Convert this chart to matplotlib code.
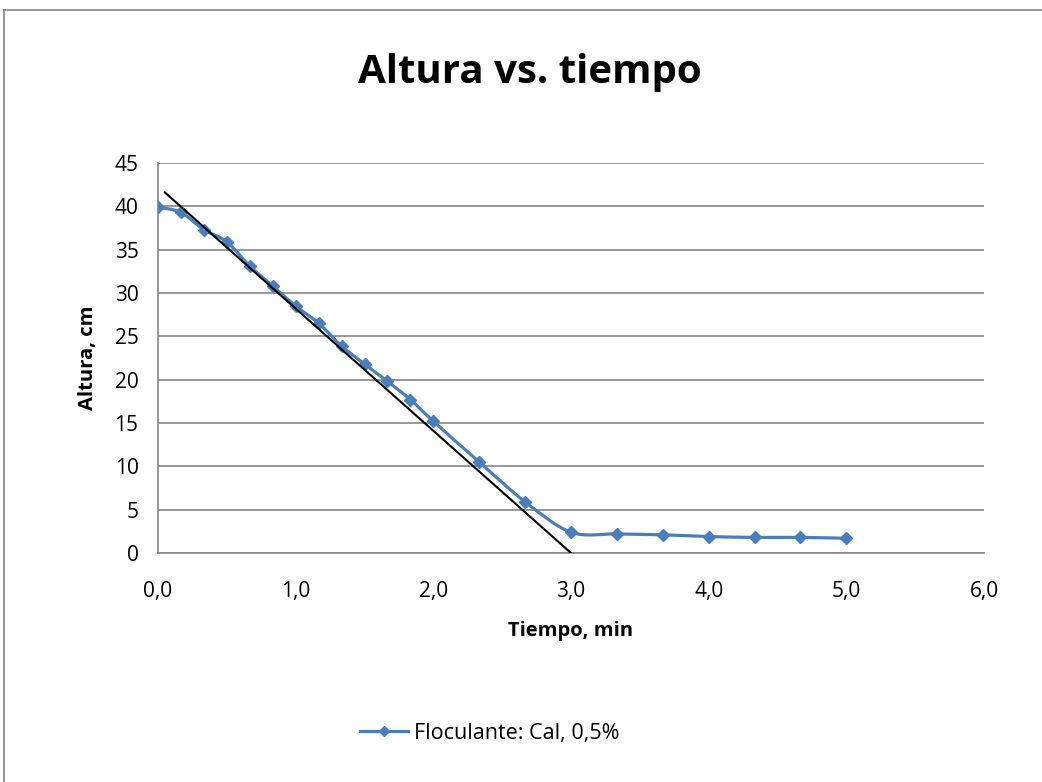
import matplotlib
matplotlib.use("Agg")
import matplotlib.pyplot as plt
from matplotlib.path import Path
from matplotlib.patches import PathPatch
from matplotlib.lines import Line2D
import numpy as np

plt.rcParams['font.family'] = ['Open Sans', 'DejaVu Sans']

# Settling test: interface height vs time
tiempo_min = [0.0, 0.167, 0.333, 0.5, 0.667, 0.833, 1.0, 1.167, 1.333, 1.5, 1.667,
              1.833, 2.0, 2.333, 2.667, 3.0, 3.333, 3.667, 4.0, 4.333, 4.667, 5.0]
altura_cm = [39.9, 39.3, 37.3, 35.9, 33.1, 30.8, 28.5, 26.5, 23.9, 21.8, 19.8,
             17.7, 15.2, 10.5, 5.9, 2.4, 2.2, 2.1, 1.9, 1.8, 1.8, 1.7]

# Tangent line drawn over the constant-rate zone
tangente_x = [0.05, 3.0]
tangente_y = [41.6, 0.0]

serie_label = "Floculante: Cal, 0,5%"
x_ticks = [0, 1, 2, 3, 4, 5, 6]
y_ticks = [0, 5, 10, 15, 20, 25, 30, 35, 40, 45]

azul = "#4A7EBB"
gris = "#868686"

fig = plt.figure(figsize=(10.42, 7.82), dpi=100)
ax = fig.add_axes([158/1042, 1-553/782, (984-158)/1042, (553-163)/782])

# smoothed curve through the points (cardinal spline as cubic Bezier segments)
pts = np.column_stack([tiempo_min, altura_cm])
verts = [tuple(pts[0])]
codes = [Path.MOVETO]
n = len(pts)
for i in range(n - 1):
    p0 = pts[i - 1] if i > 0 else pts[i]
    p1 = pts[i]
    p2 = pts[i + 1]
    p3 = pts[i + 2] if i + 2 < n else pts[i + 1]
    c1 = p1 + (p2 - p0) / 6.0
    c2 = p2 - (p3 - p1) / 6.0
    verts += [tuple(c1), tuple(c2), tuple(p2)]
    codes += [Path.CURVE4] * 3
curva = PathPatch(Path(verts, codes), facecolor='none', edgecolor=azul, lw=2.3,
                  zorder=3, capstyle='round', joinstyle='round')
ax.add_patch(curva)
ax.plot(tiempo_min, altura_cm, linestyle='none', marker='D', markersize=6,
        color=azul, zorder=4)

ax.plot(tangente_x, tangente_y, color='black', lw=1.5, zorder=5)

ax.set_xlim(0, 6)
ax.set_ylim(0, 45)
ax.set_xticks(x_ticks)
ax.set_xticklabels([f"{v:.1f}".replace('.', ',') for v in x_ticks])
ax.set_yticks(y_ticks)
ax.tick_params(length=0, labelsize=15, pad=14)
ax.tick_params(axis='x', pad=20)
ax.grid(axis='y', color=gris, lw=1.2)
ax.set_axisbelow(True)
for s in ['top', 'right']:
    ax.spines[s].set_visible(False)
for s in ['left', 'bottom']:
    ax.spines[s].set_color(gris)
    ax.spines[s].set_linewidth(1.2)

ax.set_xlabel("Tiempo, min", fontsize=14.5, fontweight='bold', labelpad=14)
ax.set_ylabel("Altura, cm", fontsize=14.5, fontweight='bold', labelpad=12)

fig.text(530/1042, 1-72/782, "Altura vs. tiempo", fontsize=29, fontweight='bold',
         ha='center', va='center')

handle = Line2D([], [], color=azul, lw=2.3, marker='D', markersize=5)
fig.legend([handle], [serie_label], loc='center', bbox_to_anchor=(490/1042, 1-733/782),
           frameon=False, fontsize=15.5, handlelength=2.2, handletextpad=0.3)

# chart outer border
fig.add_artist(Line2D([4/1042, 4/1042], [0, 1-10/782], color=gris, lw=1.2,
                      transform=fig.transFigure))
fig.add_artist(Line2D([4/1042, 1], [1-10/782, 1-10/782], color=gris, lw=1.2,
                      transform=fig.transFigure))

fig.savefig("out.png", dpi=100)
